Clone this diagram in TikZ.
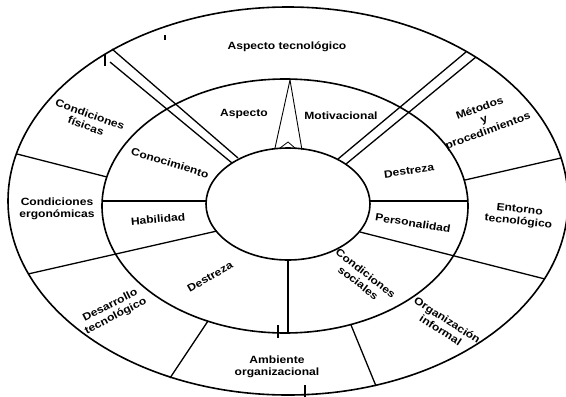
\documentclass[tikz,border=0pt]{standalone}
\usepackage{fontspec}
\newfontfamily\labelfont[FakeStretch=1.15]{Liberation Sans}
\begin{document}
\begin{tikzpicture}[x=1pt,y=-1pt,
  ring/.style={line width=1.6pt},
  divider/.style={line width=1.3pt},
  tick/.style={line width=1.1pt},
  lab/.style={font=\labelfont\bfseries\fontsize{10.5}{12}\selectfont,
              align=center, inner sep=0pt}]
\useasboundingbox (0,0) rectangle (566,397);
\fill[white] (0,0) rectangle (566,397);

% three concentric rings
\draw[ring] (288,201) ellipse [x radius=280pt, y radius=194pt];
\draw[ring] (285,206) ellipse [x radius=183pt, y radius=127pt];
\draw[ring] (288,204) ellipse [x radius=82pt, y radius=56pt];

% end points of the dividers
\coordinate (ulA1) at (112,49);  \coordinate (ulA2) at (238,158);
\coordinate (ulB1) at (110,62);  \coordinate (ulB2) at (232,163);
\coordinate (urA1) at (466,52);  \coordinate (urA2) at (338,159);
\coordinate (urB1) at (476,57);  \coordinate (urB2) at (346,164);
\coordinate (rO1) at (465,180);  \coordinate (rO2) at (561,158);
\coordinate (rM1) at (370,201);  \coordinate (rM2) at (468,201);
\coordinate (lr1) at (360,232);  \coordinate (lr2) at (545,279);
\coordinate (bO1) at (351,325);  \coordinate (bO2) at (376,386);
\coordinate (bM1) at (288,260);  \coordinate (bM2) at (288,333);
\coordinate (blO1) at (208,321); \coordinate (blO2) at (170,378);
\coordinate (ll1) at (217,231);  \coordinate (ll2) at (28,274);
\coordinate (lM1) at (103,201);  \coordinate (lM2) at (206,201);
\coordinate (lO1) at (17,154);   \coordinate (lO2) at (107,177);

% dividers
\draw[divider] (ulA1) -- (ulA2);
\draw[divider] (ulB1) -- (ulB2);
\draw[divider] (urA1) -- (urA2);
\draw[divider] (urB1) -- (urB2);
\draw[divider] (rO1) -- (rO2);
\draw[divider] (rM1) -- (rM2);
\draw[divider] (lr1) -- (lr2);
\draw[divider] (bO1) -- (bO2);
\draw[divider] (bM1) -- (bM2);
\draw[divider] (blO1) -- (blO2);
\draw[divider] (ll1) -- (ll2);
\draw[divider] (lM1) -- (lM2);
\draw[divider] (lO1) -- (lO2);

% pointer between Aspecto and Motivacional
\coordinate (tip) at (290,80);
\coordinate (tipL) at (275,148);
\coordinate (tipR) at (302,150);
\coordinate (chL) at (280,148);
\coordinate (chT) at (288,142);
\coordinate (chR) at (295,148);
\draw[line width=0.9pt] (tipL) -- (tip) -- (tipR);
\draw[line width=0.8pt] (chL) -- (chT) -- (chR);

% small strokes
\coordinate (t1a) at (165,35);  \coordinate (t1b) at (165,40);
\coordinate (t2a) at (105,54);  \coordinate (t2b) at (105,66);
\coordinate (t3a) at (278,325); \coordinate (t3b) at (278,338);
\coordinate (t4a) at (305,385); \coordinate (t4b) at (305,397);
\draw[tick] (t1a) -- (t1b);
\draw[tick] (t2a) -- (t2b);
\draw[tick] (t3a) -- (t3b);
\draw[tick] (t4a) -- (t4b);

% outer ring labels
\node[lab] (aspTec) at (287,47) {Aspecto tecnológico};
\node[lab, rotate=-20] (condFis) at (88,120) {Condiciones\\físicas};
\node[lab] (condErg) at (57,209) {Condiciones\\ergonómicas};
\node[lab, rotate=27] (desTec) at (113,311) {Desarrollo\\tecnológico};
\node[lab] (ambOrg) at (277,367) {Ambiente\\organizacional};
\node[lab, rotate=-33] (orgInf) at (444,325) {Organización\\informal};
\node[lab, rotate=-6] (entTec) at (519,216) {Entorno\\tecnológico};
\node[lab, rotate=20] (metProc) at (484,120) {Métodos\\y\\procedimientos};

% middle ring labels
\node[lab] (asp) at (244,114) {Aspecto};
\node[lab] (mot) at (341,116) {Motivacional};
\node[lab, rotate=8] (desA) at (409,171) {Destreza};
\node[lab, rotate=-9] (pers) at (413,223) {Personalidad};
\node[lab, rotate=-38] (condSoc) at (362,278) {Condiciones\\sociales};
\node[lab, rotate=30] (desB) at (210,277) {Destreza};
\node[lab, rotate=5] (hab) at (158,219) {Habilidad};
\node[lab, rotate=-17] (con) at (170,163) {Conocimiento};
\end{tikzpicture}
\end{document}
